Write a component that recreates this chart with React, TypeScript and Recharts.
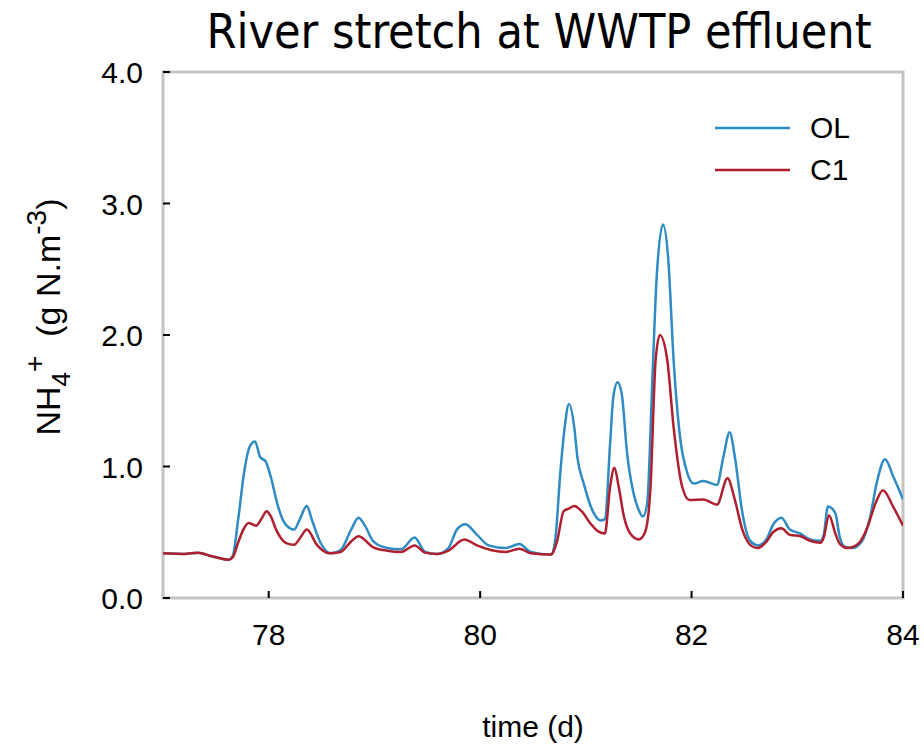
import React from "react";
import { LineChart, Line, XAxis, YAxis, ReferenceArea } from "recharts";

const olTime = [77.0, 77.2, 77.33, 77.45, 77.55, 77.62, 77.66, 77.71, 77.77, 77.82, 77.87, 77.92, 77.97, 78.02, 78.08, 78.15, 78.24, 78.29, 78.36, 78.41, 78.49, 78.59, 78.68, 78.78, 78.85, 78.91, 78.99, 79.12, 79.25, 79.38, 79.48, 79.59, 79.7, 79.78, 79.86, 79.96, 80.08, 80.24, 80.37, 80.48, 80.67, 80.71, 80.76, 80.8, 80.84, 80.89, 80.92, 80.98, 81.06, 81.14, 81.18, 81.23, 81.26, 81.3, 81.34, 81.39, 81.45, 81.5, 81.54, 81.58, 81.63, 81.67, 81.73, 81.78, 81.83, 81.89, 81.96, 82.02, 82.11, 82.24, 82.3, 82.36, 82.41, 82.48, 82.55, 82.63, 82.71, 82.77, 82.85, 82.93, 83.03, 83.12, 83.22, 83.25, 83.29, 83.36, 83.4, 83.45, 83.52, 83.61, 83.69, 83.75, 83.83, 83.91, 84.0];
const olValue = [0.34, 0.335, 0.345, 0.32, 0.3, 0.29, 0.32, 0.59, 0.97, 1.15, 1.19, 1.07, 1.04, 0.92, 0.72, 0.57, 0.52, 0.59, 0.7, 0.59, 0.42, 0.34, 0.365, 0.52, 0.61, 0.55, 0.43, 0.38, 0.37, 0.46, 0.35, 0.335, 0.38, 0.52, 0.56, 0.49, 0.4, 0.38, 0.41, 0.35, 0.33, 0.44, 0.97, 1.3, 1.475, 1.3, 1.07, 0.87, 0.67, 0.59, 0.6, 1.18, 1.53, 1.64, 1.55, 1.1, 0.8, 0.67, 0.62, 0.72, 1.68, 2.44, 2.84, 2.57, 1.81, 1.23, 0.95, 0.87, 0.89, 0.86, 1.07, 1.26, 1.07, 0.65, 0.44, 0.4, 0.45, 0.555, 0.61, 0.52, 0.49, 0.445, 0.435, 0.48, 0.695, 0.645, 0.47, 0.39, 0.38, 0.43, 0.62, 0.87, 1.055, 0.92, 0.75];

const c1Time = [77.0, 77.2, 77.33, 77.45, 77.55, 77.62, 77.66, 77.71, 77.76, 77.81, 77.88, 77.93, 77.98, 78.02, 78.07, 78.16, 78.24, 78.3, 78.36, 78.46, 78.57, 78.68, 78.78, 78.85, 78.99, 79.12, 79.25, 79.38, 79.48, 79.59, 79.7, 79.85, 79.97, 80.1, 80.24, 80.37, 80.48, 80.67, 80.73, 80.79, 80.84, 80.89, 80.96, 81.04, 81.12, 81.18, 81.23, 81.27, 81.31, 81.36, 81.42, 81.5, 81.56, 81.61, 81.66, 81.7, 81.77, 81.83, 81.91, 81.98, 82.11, 82.24, 82.34, 82.41, 82.48, 82.56, 82.62, 82.71, 82.77, 82.85, 82.93, 83.03, 83.12, 83.22, 83.25, 83.3, 83.36, 83.4, 83.47, 83.58, 83.66, 83.74, 83.81, 83.91, 84.0];
const c1Value = [0.34, 0.335, 0.345, 0.32, 0.3, 0.29, 0.31, 0.42, 0.52, 0.57, 0.55, 0.6, 0.66, 0.62, 0.52, 0.42, 0.405, 0.46, 0.52, 0.4, 0.34, 0.35, 0.43, 0.47, 0.385, 0.36, 0.35, 0.4, 0.345, 0.335, 0.36, 0.445, 0.4, 0.365, 0.35, 0.375, 0.34, 0.33, 0.44, 0.66, 0.68, 0.7, 0.66, 0.57, 0.505, 0.49, 0.85, 0.99, 0.85, 0.62, 0.49, 0.445, 0.5, 0.82, 1.81, 2.0, 1.81, 1.3, 0.85, 0.745, 0.75, 0.71, 0.91, 0.745, 0.52, 0.4, 0.38, 0.43, 0.5, 0.53, 0.48, 0.47, 0.435, 0.42, 0.46, 0.63, 0.49, 0.415, 0.38, 0.415, 0.53, 0.72, 0.82, 0.69, 0.55];

const xTicks = [78, 80, 82, 84];
const yTicks = [0, 1, 2, 3, 4];
const seriesNames = ["OL", "C1"];

const olData = olTime.map((t, i) => ({ t, v: olValue[i] }));
const c1Data = c1Time.map((t, i) => ({ t, v: c1Value[i] }));

const BLUE = "#2e8bc3";
const RED = "#b01f2e";
const FONT = "'Liberation Sans', Arial, sans-serif";

function XTick(props: any) {
  const { x, y, payload } = props;
  return (
    <g>
      <line x1={x} x2={x} y1={y} y2={y - 7} stroke="#000" strokeWidth={2} />
      <text x={x} y={y + 47} textAnchor="middle" fontSize={30} fontFamily={FONT} fill="#000">
        {payload.value}
      </text>
    </g>
  );
}

function YTick(props: any) {
  const { x, y, payload } = props;
  return (
    <g>
      <line x1={x} x2={x + 7} y1={y} y2={y} stroke="#000" strokeWidth={2} />
      <text x={x - 20} y={y + 11} textAnchor="end" fontSize={30} fontFamily={FONT} fill="#000">
        {Number(payload.value).toFixed(1)}
      </text>
    </g>
  );
}

function YLabel() {
  const cx = 60;
  const cy = 317;
  return (
    <text
      transform={`translate(${cx},${cy}) rotate(-90)`}
      textAnchor="middle"
      fontSize={34}
      fontFamily={FONT}
      fill="#000"
    >
      <tspan>NH</tspan>
      <tspan fontSize={26} dy={10}>4</tspan>
      <tspan fontSize={28} dy={-26}>+</tspan>
      <tspan dy={16}>{"\u00a0\u00a0(g N.m"}</tspan>
      <tspan fontSize={28} dy={-14}>-3</tspan>
      <tspan dy={14}>)</tspan>
    </text>
  );
}

function LegendBox() {
  const colors = [BLUE, RED];
  return (
    <div style={{ position: "absolute", left: 715, top: 107, fontFamily: FONT, fontSize: 30, color: "#000" }}>
      {seriesNames.map((name, i) => (
        <div key={name} style={{ display: "flex", alignItems: "center", height: 42 }}>
          <svg width={95} height={10}>
            <line x1={0} x2={75} y1={5} y2={5} stroke={colors[i]} strokeWidth={2.5} />
          </svg>
          <span>{name}</span>
        </div>
      ))}
    </div>
  );
}

export default function App() {
  return (
    <div style={{ position: "absolute", left: 0, top: 0, width: 924, height: 745, background: "#fff" }}>
      <LineChart width={924} height={745} margin={{ top: 72, right: 21, bottom: 0, left: 0 }}>
        <XAxis
          dataKey="t"
          type="number"
          domain={[77, 84]}
          ticks={xTicks}
          allowDataOverflow
          axisLine={false}
          tickLine={false}
          tickSize={0}
          tickMargin={0}
          tick={<XTick />}
          height={147}
          label={{ value: "time (d)", position: "insideBottom", offset: 8, fontSize: 30, fontFamily: FONT, fill: "#000" }}
        />
        <YAxis
          type="number"
          domain={[0, 4]}
          ticks={yTicks}
          allowDataOverflow
          axisLine={false}
          tickLine={false}
          tickSize={0}
          tickMargin={0}
          tick={<YTick />}
          width={163}
          label={<YLabel />}
        />
        <ReferenceArea x1={77} x2={84} y1={0} y2={4} fill="none" stroke="#c4c4c4" strokeWidth={3} ifOverflow="visible" />
        <Line data={olData} dataKey="v" type="monotone" stroke={BLUE} strokeWidth={2.5} dot={false} isAnimationActive={false} name="OL" />
        <Line data={c1Data} dataKey="v" type="monotone" stroke={RED} strokeWidth={2.5} dot={false} isAnimationActive={false} name="C1" />
      </LineChart>
      <div
        style={{
          position: "absolute",
          left: 0,
          width: 1078,
          top: 3,
          textAlign: "center",
          fontFamily: "'DejaVu Sans Condensed', 'DejaVu Sans', sans-serif",
          fontSize: 48,
          color: "#000",
          whiteSpace: "nowrap",
        }}
      >
        River stretch at WWTP effluent
      </div>
      <LegendBox />
    </div>
  );
}
